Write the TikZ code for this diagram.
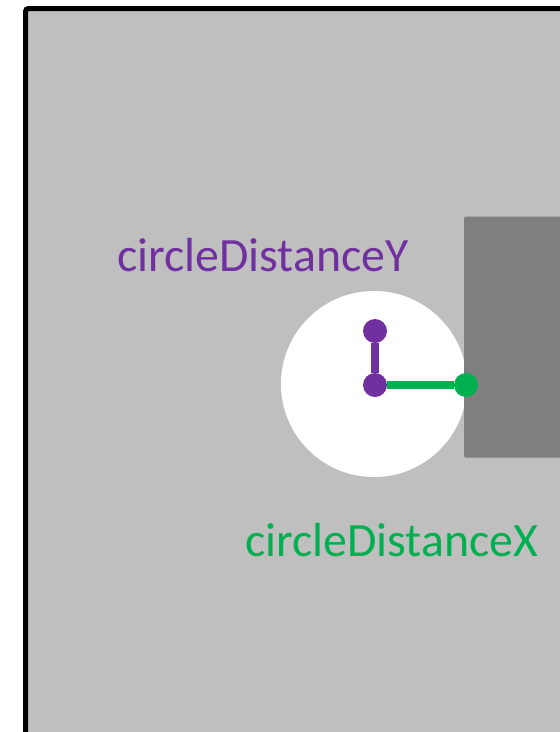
\documentclass[tikz,border=0pt]{standalone}
\usepackage{fontspec}
\setmainfont{Carlito}
\definecolor{paneGray}{HTML}{BFBFBF}
\definecolor{wallGray}{HTML}{7F7F7F}
\definecolor{distY}{HTML}{7030A0}
\definecolor{distX}{HTML}{00B050}
\begin{document}
\begin{tikzpicture}[x=1pt, y=-1pt,
        dot/.style={circle, fill, inner sep=0pt, minimum size=24pt},
        lbl/.style={anchor=base west, inner sep=0pt, font=\fontsize{47.8}{57}\selectfont}]
        \useasboundingbox (0, 0) rectangle (560, 732);
        \clip (0, 0) rectangle (560, 732);
        \filldraw[fill=paneGray, draw=black, line width=5pt, rounded corners=3pt] (25.5, 8.5) rectangle (620, 780);
        \fill[white] (374, 384) circle (93pt);
        \fill[wallGray, rounded corners=2pt] (464, 216.5) rectangle (620, 457.5);
        \draw (375, 385) node[dot, distY](ctr){}
        (375, 331) node[dot, distY](top){}
        (466, 385) node[dot, distX](side){};
        \draw[distX, line width=8pt] (ctr) -- (side);
        \draw[distY, line width=8pt] (ctr) -- (top);
        \node[lbl, text=distY] (labY) at (117, 271.7) {circleDistanceY};
        \node[lbl, text=distX] (labX) at (245, 556.7) {circleDistanceX};
    \end{tikzpicture}
\end{document}
